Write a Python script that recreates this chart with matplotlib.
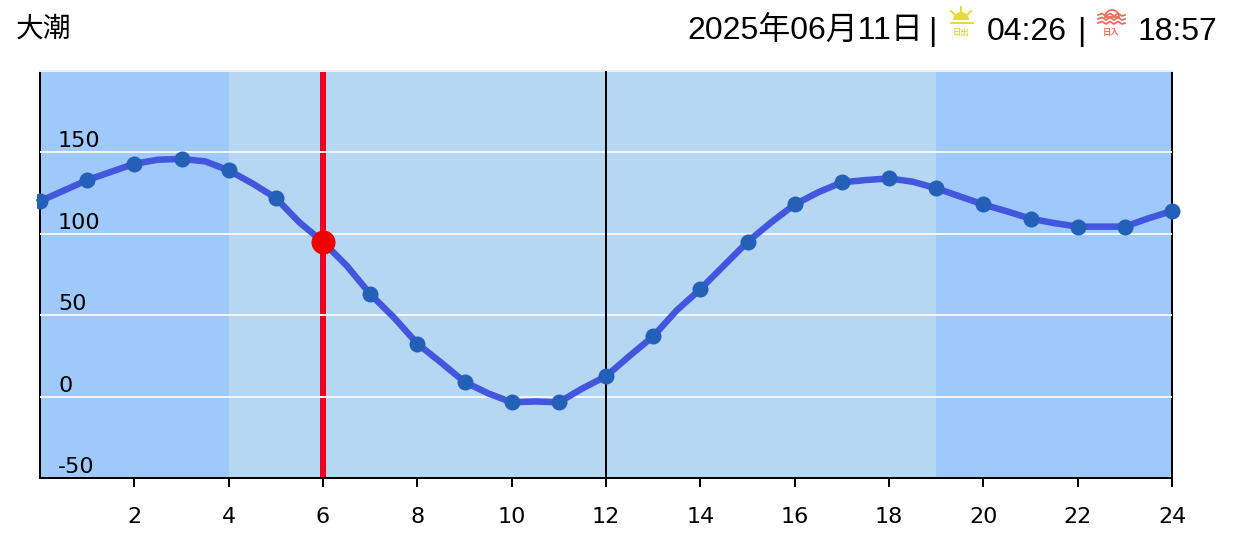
import matplotlib
matplotlib.use("Agg")
import matplotlib.pyplot as plt
import numpy as np
from matplotlib.patches import Rectangle, Wedge
from matplotlib.transforms import Bbox

plt.rcParams['font.family'] = ['Liberation Sans', 'Noto Sans CJK JP', 'DejaVu Sans']

### Data
tide_name = "大潮"
date_label = "2025年06月11日"
sunrise = "04:26"
sunset = "18:57"

# half hourly tide level
half_hours = [0, .5, 1, 1.5, 2, 2.5, 3, 3.5, 4, 4.5, 5, 5.5, 6, 6.5, 7, 7.5, 8, 8.5, 9, 9.5, 10, 10.5,
              11, 11.5, 12, 12.5, 13, 13.5, 14, 14.5, 15, 15.5, 16, 16.5, 17, 17.5, 18, 18.5, 19, 19.5,
              20, 20.5, 21, 21.5, 22, 22.5, 23, 23.5, 24]
levels = [120, 126.5, 133, 138, 143, 145.5, 146, 144.5, 139, 131, 122, 107, 95, 80.5, 63, 48.7, 32.5, 21, 9, 2,
          -3.5, -3, -3.5, 5, 12.5, 25, 37, 53, 66, 80.5, 95, 107, 118, 125.5, 131.6, 133, 134, 132, 128, 123,
          118, 113.8, 109.3, 106.6, 104.4, 104.4, 104.4, 109.5, 114]
hours = half_hours[::2]
hour_levels = levels[::2]

now_hour = 6
now_level = 95
sun_up = 4
sun_down = 19
y_ticks = [-50, 0, 50, 100, 150]
x_ticks = list(range(2, 25, 2))

### Plot
W, H = 1242, 545
fig = plt.figure(figsize=(W / 100, H / 100), dpi=100)
ax = fig.add_axes([40 / W, 1 - 478 / H, 1132 / W, 407 / H])
ax.set_xlim(0, 24)
ax.set_ylim(-50, 200)
px = 0.72  # points per pixel at this dpi

ax.axvspan(0, 24, color='#9FC9FA', lw=0, zorder=0)
ax.axvspan(sun_up, sun_down, color='#B5D7F1', lw=0, zorder=1)
ax.axvline(now_hour, color='#F00020', lw=6 * px, zorder=2)
for v in y_ticks[1:]:
    ax.axhline(v, color='#F2F4F6', lw=2 * px, zorder=3)
ax.axvline(12, color='k', lw=2 * px, zorder=4)

line, = ax.plot(half_hours, levels, color='#4257DD', lw=6.5 * px, solid_joinstyle='round', zorder=5, clip_on=False)
dots, = ax.plot(hours, hour_levels, 'o', color='#2560B8', ms=16 * px, mew=0, zorder=6)
# the first dot is cut just left of the axis, the last one is not
dots.set_clip_path(None)
dots.set_clip_box(Bbox([[37, 0], [W, H]]))
ax.plot([now_hour], [now_level], 'o', color='#F00000', ms=24 * px, mew=0, zorder=7, clip_on=False)

for s in ['left', 'right', 'bottom']:
    ax.spines[s].set_linewidth(2 * px)
ax.spines['top'].set_color('#EEEEEE')
ax.spines['top'].set_linewidth(2 * px)
ax.set_yticks([])
ax.set_xticks(x_ticks)
ax.tick_params(axis='x', length=9 * px, width=2 * px, pad=20 * px)
for t in ax.get_xticklabels():
    t.set_fontfamily('DejaVu Sans')
    t.set_fontsize(16)

for v in y_ticks:
    ax.annotate(str(v), (0, v), xytext=(18 * px, 11 * px), textcoords='offset points', ha='left', va='center',
                fontsize=16, family='DejaVu Sans', color='k', zorder=8)

### Header, in pixel coordinates
top = fig.add_axes([0, 0, 1, 1], facecolor='none')
top.set_xlim(0, W)
top.set_ylim(H, 0)
top.axis('off')
head = dict(fontsize=23, va='center', color='k')
top.text(16, 29, tide_name, ha='left', family=['Noto Sans CJK JP'], fontsize=20, va='center', color='k')
top.text(687, 32, date_label, ha='left', **head)
top.text(932, 32, "|", ha='center', **head)
top.text(987, 32, sunrise, ha='left', **head)
top.text(1081, 32, "|", ha='center', **head)
top.text(1138, 32, sunset, ha='left', **head)

# sunrise icon
yellow = '#E8DA3C'
top.add_patch(Wedge((961, 20), 8, 180, 360, color=yellow, lw=0))
top.add_patch(Rectangle((950, 21.5), 24, 2, color=yellow, lw=0))
for x0, y0, x1, y1 in [(961, 7, 961, 11), (951, 11, 954, 14), (971, 11, 968, 14)]:
    top.plot([x0, x1], [y0, y1], color=yellow, lw=1.5)
top.text(961, 32, "日出", ha='center', va='center', fontsize=6, weight='bold', color=yellow,
         family=['Noto Sans CJK JP'])

# sunset icon
red = '#E8705A'
top.add_patch(Wedge((1112, 17), 7, 180, 360, fc='none', ec=red, lw=1.3))
for y in [15, 19, 23]:
    top.plot([1098, 1102, 1106, 1110, 1114, 1118, 1122, 1125], [y, y - 1.5, y + 1, y - 1.5, y + 1, y - 1.5, y + 1, y],
             color=red, lw=1.3)
top.text(1111, 32, "日入", ha='center', va='center', fontsize=6, weight='bold', color=red,
         family=['Noto Sans CJK JP'])

fig.savefig("out.png", dpi=100)
